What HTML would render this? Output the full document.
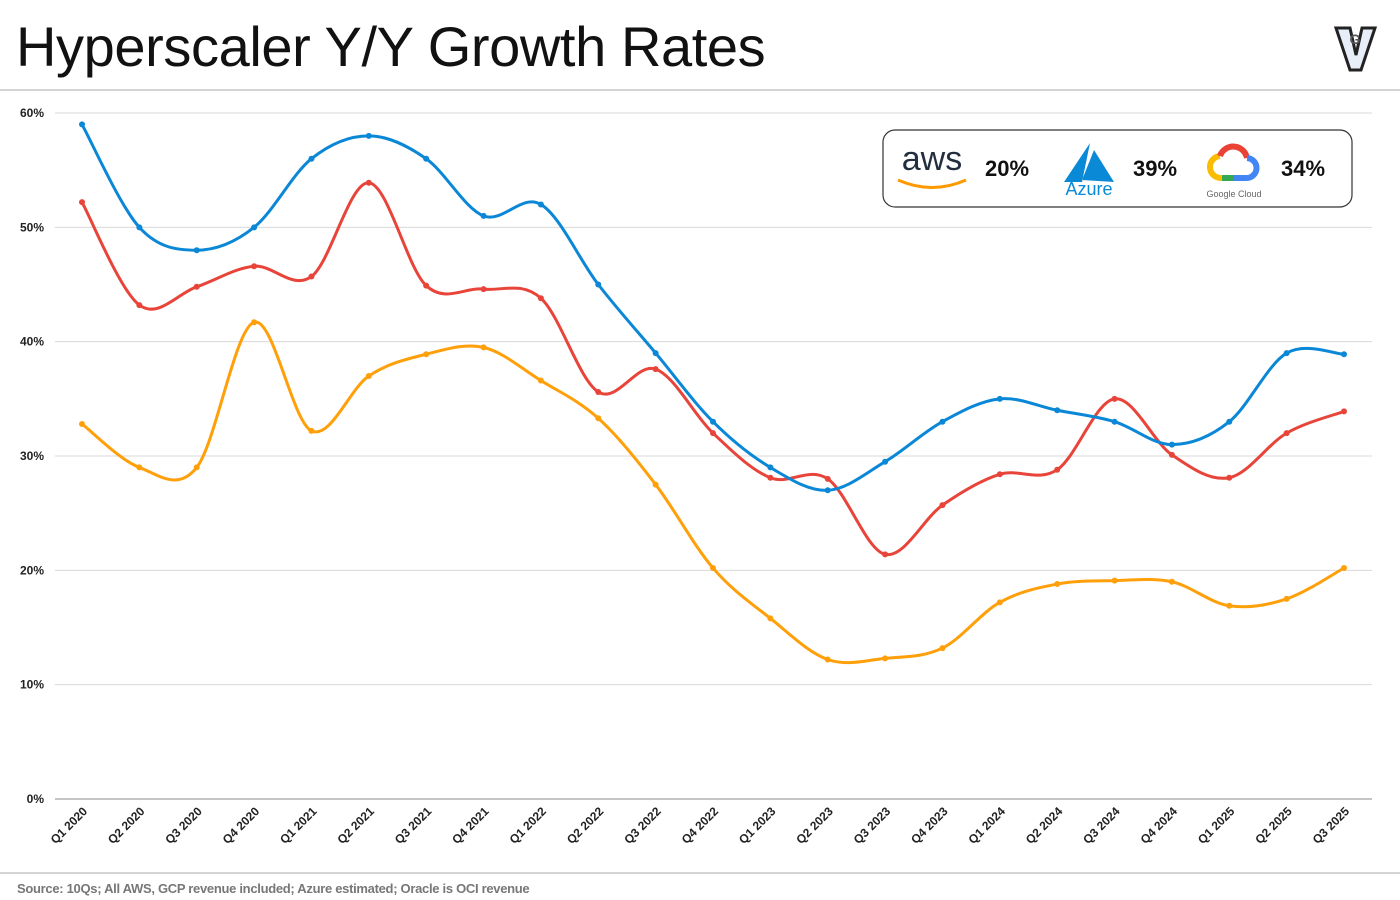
<!DOCTYPE html>
<html><head><meta charset="utf-8"><style>
body{margin:0;width:1400px;height:900px;background:#fff;font-family:"Liberation Sans",sans-serif;overflow:hidden;position:relative}
.title{position:absolute;left:16px;top:14px;font-size:56px;color:#111;letter-spacing:-0.4px}
.sep{position:absolute;left:0;width:1400px;height:2px;background:#d4d4d4}
.src{position:absolute;left:17px;top:881px;font-size:13px;color:#777;font-weight:bold;letter-spacing:-0.3px}
</style></head><body>
<div class="title">Hyperscaler Y/Y Growth Rates</div>
<div class="sep" style="top:89px"></div>
<div class="sep" style="top:872px"></div>
<div class="src">Source: 10Qs; All AWS, GCP revenue included; Azure estimated; Oracle is OCI revenue</div>
<svg width="1400" height="900" style="position:absolute;left:0;top:0" id="chart">
<g id="grid"></g><g id="lines"></g><g id="xl"></g>
<g>
<path d="M1336,28 L1350,28 L1356,55 L1362,28 L1375,28 L1361,70 L1350,70 Z" fill="#e8eef8" stroke="#222" stroke-width="3"/>
<text x="1355" y="44" font-size="14" font-weight="bold" fill="#555" text-anchor="middle">G</text>
</g>
<g>
<rect x="883" y="130" width="469" height="77" rx="12" fill="#fff" stroke="#333" stroke-width="1.2"/>
<text x="932" y="170" font-size="34" fill="#232f3e" text-anchor="middle">aws</text>
<path d="M898,180 Q932,195 966,180" fill="none" stroke="#f90" stroke-width="3"/>
<text x="985" y="176" font-size="22" font-weight="bold" fill="#111">20%</text>
<path d="M1090,143 L1064,182 L1082,182 Z M1094,150 L1114,182 L1082,180 Z" fill="#0a8ad6"/>
<text x="1089" y="195" font-size="18" fill="#0a8ad6" text-anchor="middle">Azure</text>
<text x="1133" y="176" font-size="22" font-weight="bold" fill="#111">39%</text>
<g>
<path d="M1222,178 A11,11 0 0 1 1220,156" fill="none" stroke="#fbbc04" stroke-width="6"/>
<path d="M1220,156 A14,14 0 0 1 1247,158" fill="none" stroke="#ea4335" stroke-width="6"/>
<path d="M1247,158 A10,10 0 0 1 1246,178 L1234,178" fill="none" stroke="#4285f4" stroke-width="6"/>
<path d="M1234,178 L1222,178" fill="none" stroke="#34a853" stroke-width="6"/>
<text x="1234" y="197" font-size="9" fill="#666" text-anchor="middle">Google Cloud</text></g>
<text x="1281" y="176" font-size="22" font-weight="bold" fill="#111">34%</text>
</g>
</svg>
<script>
const categories=["Q1 2020","Q2 2020","Q3 2020","Q4 2020","Q1 2021","Q2 2021","Q3 2021","Q4 2021","Q1 2022","Q2 2022","Q3 2022","Q4 2022","Q1 2023","Q2 2023","Q3 2023","Q4 2023","Q1 2024","Q2 2024","Q3 2024","Q4 2024","Q1 2025","Q2 2025","Q3 2025"];
const azure=[59,50,48,50,56,58,56,51,52,45,39,33,29,27,29.5,33,35,34,33,31,33,39,38.9];
const gcp=[52.2,43.2,44.8,46.6,45.7,53.9,44.9,44.6,43.8,35.6,37.6,32,28.1,28,21.4,25.7,28.4,28.8,35,30.1,28.1,32,33.9];
const aws=[32.8,29,29,41.7,32.2,37,38.9,39.5,36.6,33.3,27.5,20.2,15.8,12.2,12.3,13.2,17.2,18.8,19.1,19,16.9,17.5,20.2];
const yTicks=[0,10,20,30,40,50,60];
const NS="http://www.w3.org/2000/svg";
const x0=82,x1=1344,y0=799,yTop=113;
const xs=i=>x0+i*(x1-x0)/(categories.length-1);
const ys=v=>y0-v*(y0-yTop)/60;
function mk(t,a,p){const e=document.createElementNS(NS,t);for(const k in a)e.setAttribute(k,a[k]);p.appendChild(e);return e;}
const grid=document.getElementById('grid');
yTicks.forEach(v=>{
 const l=mk('line',{x1:55,x2:1372,y1:ys(v),y2:ys(v),stroke:v===0?'#888':'#d8d8d8','stroke-width':1},grid);
 
 
 const t=mk('text',{x:44,y:ys(v)+4,'font-size':12,'font-weight':'bold','text-anchor':'end',fill:'#222'},grid);
 t.textContent=v+'%';
 
 
});
const xl=document.getElementById('xl');
categories.forEach((c,i)=>{
 const t=mk('text',{x:xs(i)+6,y:812,'font-size':12,'font-weight':'bold','text-anchor':'end',fill:'#222',transform:`rotate(-45 ${xs(i)+6} 812)`},xl);
 t.textContent=c;
 
 
});
function path(vals){
 const p=vals.map((v,i)=>[xs(i),ys(v)]);
 let d=`M${p[0][0]},${p[0][1]}`;
 for(let i=0;i<p.length-1;i++){
  const a=p[Math.max(i-1,0)],b=p[i],c=p[i+1],e=p[Math.min(i+2,p.length-1)];
  d+=` C${b[0]+(c[0]-a[0])/6},${b[1]+(c[1]-a[1])/6} ${c[0]-(e[0]-b[0])/6},${c[1]-(e[1]-b[1])/6} ${c[0]},${c[1]}`;
 }
 return d;
}
const lines=document.getElementById('lines');
[[aws,'#ff9f0a','aws'],[gcp,'#e8443a','gcp'],[azure,'#0a87d6','azure']].forEach(([vals,col,n])=>{
 const pth=mk('path',{d:path(vals),fill:'none',stroke:col,'stroke-width':3},lines);
 
 
 vals.forEach((v,i)=>{
  const c=mk('circle',{cx:xs(i),cy:ys(v),r:3,fill:col},lines);
  
  
 });
});
</script>
</body></html>
